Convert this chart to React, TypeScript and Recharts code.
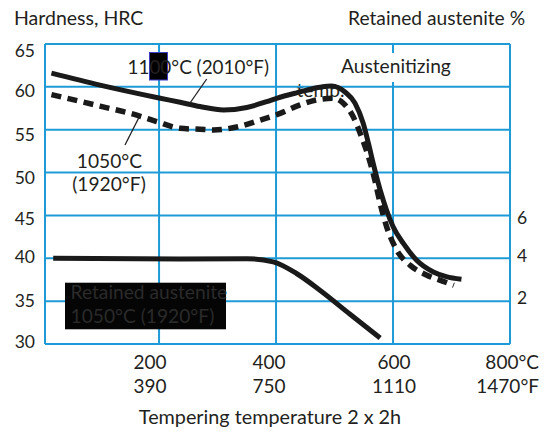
import { LineChart, Line, XAxis, YAxis, CartesianGrid } from "recharts"

const GRID = "#1e9bd7"
const INK = "#231f20"
const FONT = "Lato, 'Open Sans', sans-serif"

// tempering temperature (°C) / hardness (HRC), austenitized 1100°C
const solidTemp = [16, 99, 200, 236, 270, 310, 350, 384, 401, 435, 475, 495, 518, 535, 549, 558, 566, 578, 589, 600, 618, 640, 669, 691, 717]
const solidHrc = [61.6, 60.2, 58.7, 58.2, 57.7, 57.3, 57.6, 58.27, 58.66, 59.3, 59.95, 60.1, 59.4, 58.1, 55.75, 53.4, 51.1, 47.96, 45.6, 43.7, 41.7, 39.8, 38.4, 37.85, 37.55]

// austenitized 1050°C
const dashTemp = [16, 99, 162, 196, 236, 270, 293, 335, 373, 407, 441, 475, 498, 515, 532, 546, 558, 569, 578, 589, 606, 629, 657, 690, 704]
const dashHrc = [59.1, 57.75, 56.7, 55.95, 55.16, 55.05, 54.97, 55.35, 56.13, 56.9, 57.9, 58.55, 58.66, 58.1, 56.5, 54.2, 51.85, 49.1, 46.4, 43.7, 41.0, 39.2, 38.05, 37.2, 36.85]

// retained austenite %, 1050°C
const raTemp = [19, 236, 350, 395, 435, 475, 526, 578]
const raPct = [4.0, 3.97, 3.98, 3.83, 3.29, 2.51, 1.4, 0.28]

const hrcTicks = [30, 35, 40, 45, 50, 55, 60, 65]
const hrcTickDy = [-2, 0, -1, 3, 5, 5, 4.5, 7]
const raTicks = [2, 4, 6]
const raTickDy = [-3, -2.5, 2]
const tempTicks = [200, 400, 600, 800]
const celsiusLabels = ["200", "400", "600", "800°C"]
const fahrenheitLabels = ["390", "750", "1110", "1470°F"]
const tempLabelDx = [-9, -7, 1, 29]

const solidData = solidTemp.map((t, i) => ({ t, v: solidHrc[i] }))
const dashData = dashTemp.map((t, i) => ({ t, v: dashHrc[i] }))
const raData = raTemp.map((t, i) => ({ t, v: raPct[i] }))

function XTick({ x, payload }: any) {
  const i = tempTicks.indexOf(payload.value)
  const last = i === tempTicks.length - 1
  const tx = x + tempLabelDx[i]
  return (
    <g>
      <text x={tx} y={369} textAnchor={last ? "end" : "middle"} fontSize={19} fill={INK} fontFamily={FONT}>
        {celsiusLabels[i]}
      </text>
      <text x={tx} y={392.5} textAnchor={last ? "end" : "middle"} fontSize={19} fill={INK} fontFamily={FONT}>
        {fahrenheitLabels[i]}
      </text>
    </g>
  )
}

function LeftTick({ y, payload }: any) {
  const i = hrcTicks.indexOf(payload.value)
  return (
    <text x={35} y={y + hrcTickDy[i]} dy="0.35em" textAnchor="end" fontSize={17.5} fill={INK} fontFamily={FONT}>
      {payload.value}
    </text>
  )
}

function RightTick({ y, payload }: any) {
  const i = raTicks.indexOf(payload.value)
  return (
    <text x={517} y={y + raTickDy[i]} dy="0.35em" textAnchor="start" fontSize={17.5} fill={INK} fontFamily={FONT}>
      {payload.value}
    </text>
  )
}

export default function App() {
  const txt = { fontSize: 19.2, fill: INK, fontFamily: FONT }
  return (
    <div style={{ position: "absolute", left: 0, top: 0, width: 544, height: 432, background: "#fff" }}>
      <svg width={544} height={432} style={{ position: "absolute", left: 0, top: 0 }}>
        <text x={296.5} y={97} {...txt}>temp.</text>
      </svg>
      <div style={{ position: "absolute", left: 0, top: 0 }}>
        <LineChart width={544} height={432} margin={{ top: 44, right: 0, bottom: 0, left: 0 }}>
          <CartesianGrid stroke={GRID} strokeWidth={2} />
          <XAxis
            type="number"
            dataKey="t"
            domain={[5, 800]}
            ticks={tempTicks}
            height={88}
            tickLine={false}
            axisLine={{ stroke: GRID, strokeWidth: 2 }}
            tick={<XTick />}
            allowDataOverflow
          />
          <YAxis
            domain={[30, 65]}
            ticks={hrcTicks}
            width={45}
            tickLine={false}
            axisLine={{ stroke: GRID, strokeWidth: 2 }}
            tick={<LeftTick />}
          />
          <YAxis
            yAxisId="ra"
            orientation="right"
            domain={[0, 14]}
            ticks={raTicks}
            width={34}
            tickLine={false}
            axisLine={{ stroke: GRID, strokeWidth: 2 }}
            tick={<RightTick />}
          />
          <Line yAxisId="ra" data={raData} dataKey="v" type="monotone" stroke="#1a1a1a" strokeWidth={5} dot={false} isAnimationActive={false} />
          <Line data={dashData} dataKey="v" type="monotone" stroke="#1a1a1a" strokeWidth={5.5} strokeDasharray="10 6.5" dot={false} isAnimationActive={false} />
          <Line data={solidData} dataKey="v" type="monotone" stroke="#1a1a1a" strokeWidth={5} dot={false} isAnimationActive={false} />
        </LineChart>
      </div>
      <svg width={544} height={432} style={{ position: "absolute", left: 0, top: 0, pointerEvents: "none" }}>
        <text x={14} y={25} {...txt} fontSize={19.5}>Hardness, HRC</text>
        <text x={348} y={25} {...txt}>Retained austenite %</text>
        <rect x={338} y={53} width={115} height={29} fill="#fff" />
        <text x={341} y={72.5} {...txt}>Austenitizing</text>
        <rect x={149.5} y={52.5} width={18} height={27.5} fill="#000" stroke="#3d3dc8" strokeWidth={1} />
        <text x={127.5} y={74} {...txt} fontSize={18.9}>1100°C (2010°F)</text>
        <line x1={206.7} y1={79} x2={190} y2={103} stroke={INK} strokeWidth={1.3} />
        <text x={109.5} y={168} textAnchor="middle" {...txt}>1050°C</text>
        <text x={109} y={191} textAnchor="middle" {...txt}>(1920°F)</text>
        <line x1={125} y1={145} x2={139.3} y2={116.7} stroke={INK} strokeWidth={1.3} />
        <rect x={65} y={282.7} width={161} height={46.6} fill="#050505" />
        <text x={70.5} y={299} fontSize={19.2} fill="#2a2a2a" fontFamily={FONT}>Retained austenite</text>
        <text x={70.5} y={323} fontSize={19.2} fill="#2a2a2a" fontFamily={FONT}>1050°C (1920°F)</text>
        <text x={270} y={423.5} textAnchor="middle" {...txt} fontSize={19.8}>Tempering temperature 2 x 2h</text>
      </svg>
    </div>
  )
}
